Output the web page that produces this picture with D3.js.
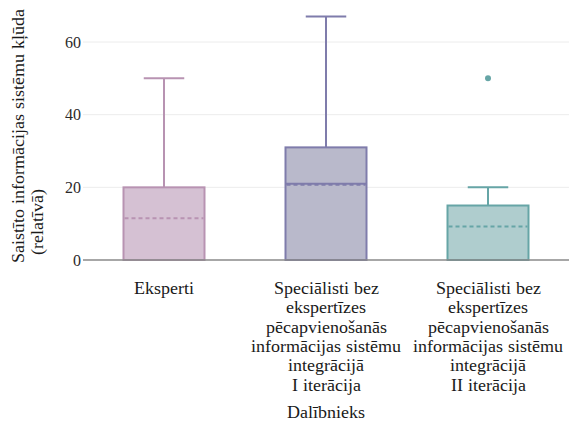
<!DOCTYPE html>
<html>
<head>
<meta charset="utf-8">
<script src="https://cdn.jsdelivr.net/npm/d3@7"></script>
<style>
  @font-face { font-family: "ChartSerif"; src: local("Liberation Serif"), local("LiberationSerif"), local("LiberationSerif-Regular"); }
  body { margin: 0; }
  svg { display: block; }
  svg text { font-family: "ChartSerif", "Liberation Serif", "Times New Roman", Times, serif !important; }
</style>
</head>
<body>
<svg id="chart" width="573" height="423"></svg>
<script>
// Box statistics per participant group
const categories = [
  ["Eksperti"],
  ["Speciālisti bez", "ekspertīzes", "pēcapvienošanās", "informācijas sistēmu", "integrācijā", "I iterācija"],
  ["Speciālisti bez", "ekspertīzes", "pēcapvienošanās", "informācijas sistēmu", "integrācijā", "II iterācija"]
];
const categoryKeys = ["g1", "g2", "g3"];
const lowerWhisker = [0, 0, 0];
const q1 = [0, 0, 0];
const median = [0, 21, 0];
const q3 = [20, 31, 15];
const upperWhisker = [50, 67, 20];
const mean = [11.5, 20.7, 9.2];
const outliers = [[], [], [50]];
const yTicks = [0, 20, 40, 60];

const fills = ["#d5c1d3", "#b9b9cb", "#afcdce"];
const strokes = ["#b893b2", "#7f7cab", "#66a5a6"];

const svg = d3.select("#chart");
const plotLeft = 83, plotRight = 569, plotBottom = 260;

const x = d3.scaleBand().domain(categoryKeys).range([plotLeft, plotRight])
  .paddingInner(0.5).paddingOuter(0.25);
const y = d3.scaleLinear().domain([0, 70]).range([plotBottom, plotBottom - 70 * 3.633]);

// Grid
svg.append("g").selectAll("line").data(yTicks.filter(d => d > 0)).join("line")
  .attr("x1", plotLeft).attr("x2", plotRight)
  .attr("y1", d => y(d)).attr("y2", d => y(d))
  .attr("stroke", "#ececec").attr("stroke-width", 1);

// Y axis labels
const yAxis = svg.append("g").attr("transform", `translate(${plotLeft},0)`)
  .call(d3.axisLeft(y).tickValues(yTicks).tickSize(0).tickPadding(2));
yAxis.attr("font-family", null).attr("font-size", 16);
yAxis.select(".domain").remove();
yAxis.selectAll("text").attr("fill", "#2a2a2a");

const bw = x.bandwidth();
const data = categoryKeys.map((k, i) => ({
  k, i, lo: lowerWhisker[i], q1: q1[i], med: median[i], q3: q3[i],
  hi: upperWhisker[i], mean: mean[i], out: outliers[i]
}));

const g = svg.append("g").selectAll("g").data(data).join("g");

// Whiskers
g.append("line")
  .attr("x1", d => x(d.k) + bw / 2).attr("x2", d => x(d.k) + bw / 2)
  .attr("y1", d => y(d.q3)).attr("y2", d => y(d.hi))
  .attr("stroke", d => strokes[d.i]).attr("stroke-width", 2);
g.append("line")
  .attr("x1", d => x(d.k) + bw / 4).attr("x2", d => x(d.k) + bw * 3 / 4)
  .attr("y1", d => y(d.hi)).attr("y2", d => y(d.hi))
  .attr("stroke", d => strokes[d.i]).attr("stroke-width", 2);

// Boxes
g.append("rect")
  .attr("x", d => x(d.k)).attr("width", bw)
  .attr("y", d => y(d.q3)).attr("height", d => y(d.q1) - y(d.q3))
  .attr("fill", d => fills[d.i]).attr("stroke", d => strokes[d.i]).attr("stroke-width", 2);

// Median
g.append("line")
  .attr("x1", d => x(d.k)).attr("x2", d => x(d.k) + bw)
  .attr("y1", d => y(d.med)).attr("y2", d => y(d.med))
  .attr("stroke", d => strokes[d.i]).attr("stroke-width", 2);

// Mean (dashed)
g.append("line")
  .attr("x1", d => x(d.k) + 1).attr("x2", d => x(d.k) + bw - 1)
  .attr("y1", d => y(d.mean)).attr("y2", d => y(d.mean))
  .attr("stroke", d => strokes[d.i]).attr("stroke-width", 2)
  .attr("stroke-dasharray", "4,3");

// Outliers
g.selectAll("circle").data(d => d.out.map(v => ({ v, d }))).join("circle")
  .attr("cx", o => x(o.d.k) + bw / 2).attr("cy", o => y(o.v)).attr("r", 3)
  .attr("fill", o => strokes[o.d.i]);

// Zero line
svg.append("line").attr("x1", plotLeft).attr("x2", plotRight)
  .attr("y1", y(0)).attr("y2", y(0))
  .attr("stroke", "#8a8a8a").attr("stroke-width", 1.5);

// Category labels
const cat = svg.append("g").selectAll("text").data(categoryKeys).join("text")
  .attr("font-size", 17.5)
  .attr("x", d => x(d) + bw / 2).attr("y", 294)
  .attr("text-anchor", "middle").attr("fill", "#1a1a1a");
cat.selectAll("tspan").data((d, i) => categories[i]).join("tspan")
  .attr("x", function () { return d3.select(this.parentNode).attr("x"); })
  .attr("dy", (d, j) => j === 0 ? 0 : 19.3)
  .text(d => d);

// Axis titles
svg.append("text").attr("font-size", 17.5).attr("x", x("g2") + bw / 2).attr("y", 418)
  .attr("text-anchor", "middle").attr("fill", "#1a1a1a")
  .text("Dalībnieks");

const yt = svg.append("text").attr("font-size", 18).attr("transform", "translate(24,263) rotate(-90)")
  .attr("fill", "#1a1a1a");
yt.append("tspan").attr("x", 0).attr("y", 0).text("Saistīto informācijas sistēmu kļūda");
yt.append("tspan").attr("x", 8).attr("y", 19).text("(relatīvā)");
</script>
</body>
</html>
